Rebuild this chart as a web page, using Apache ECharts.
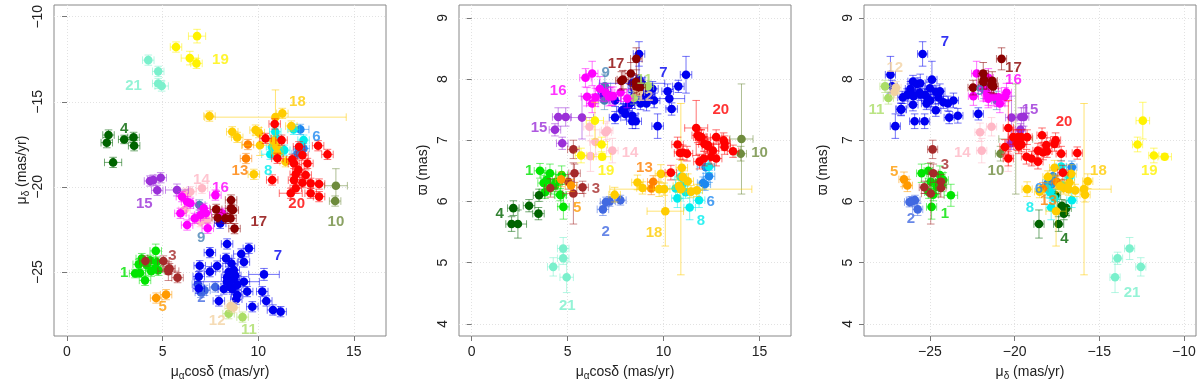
<!DOCTYPE html>
<html>
<head>
<meta charset="utf-8">
<script src="https://cdn.jsdelivr.net/npm/echarts@6/dist/echarts.min.js"></script>
<style>
  html, body { margin: 0; padding: 0; background: #fff; }
  #main { width: 1200px; height: 383px; }
</style>
</head>
<body>
<div id="main"></div>
<script>
// each star: [pmra, pmdec, parallax, err_pmra, err_pmdec, err_parallax]
const g1 = [
  [4.64, -23.76, 6.10, 0.3, 0.4, 0.18], [3.91, -24.21, 6.35, 0.3, 0.3, 0.12],
  [4.35, -24.31, 6.26, 0.3, 0.3, 0.1], [4.69, -24.41, 6.43, 0.3, 0.3, 0.15],
  [4.17, -24.60, 6.24, 0.3, 0.3, 0.12], [4.61, -24.80, 6.11, 0.3, 0.3, 0.1],
  [3.82, -25.06, 6.15, 0.3, 0.25, 0.1], [3.56, -25.09, 6.50, 0.3, 0.25, 0.12],
  [4.08, -25.49, 6.46, 0.3, 0.3, 0.15], [4.78, -24.90, 5.91, 0.3, 0.3, 0.2],
  [4.40, -24.95, 6.32, 0.3, 0.3, 0.12], [3.75, -24.55, 6.30, 0.3, 0.3, 0.12]
];
const g2 = [
  [6.84, -25.72, 5.87, 0.3, 0.3, 0.1], [7.19, -26.08, 6.00, 0.3, 0.3, 0.08],
  [7.75, -25.88, 6.02, 0.3, 0.3, 0.08], [7.00, -26.20, 5.99, 0.3, 0.3, 0.08]
];
const g3 = [
  [4.10, -24.35, 6.22, 0.3, 0.3, 0.15], [5.04, -24.35, 6.32, 0.3, 0.3, 0.12],
  [5.36, -24.80, 6.46, 0.3, 0.3, 0.15], [5.30, -24.95, 6.13, 0.55, 0.55, 0.5],
  [5.78, -25.33, 6.23, 0.3, 0.3, 0.1], [5.30, -24.84, 6.85, 0.3, 0.3, 0.15]
];
const g4 = [
  [2.17, -16.95, 5.89, 0.3, 0.3, 0.12], [2.08, -17.40, 5.63, 0.3, 0.3, 0.12],
  [2.99, -17.21, 5.93, 0.3, 0.25, 0.1], [3.48, -17.09, 5.80, 0.3, 0.3, 0.1],
  [3.51, -17.58, 6.10, 0.3, 0.3, 0.1], [2.41, -18.56, 5.63, 0.45, 0.3, 0.23]
];
const g5 = [
  [4.66, -26.53, 6.36, 0.3, 0.3, 0.12], [5.18, -26.33, 6.26, 0.3, 0.3, 0.1]
];
const g6 = [
  [12.20, -16.62, 6.56, 0.45, 0.3, 0.1], [12.37, -17.74, 6.41, 0.3, 0.3, 0.1],
  [12.06, -18.04, 6.30, 0.3, 0.3, 0.1], [12.15, -17.80, 6.28, 0.3, 0.3, 0.1]
];
const g7 = [
  [8.37, -23.35, 7.40, 0.3, 0.3, 0.12], [7.47, -23.86, 7.37, 0.3, 0.3, 0.1],
  [9.51, -23.61, 7.65, 0.3, 0.3, 0.12], [9.11, -23.94, 7.60, 0.4, 0.3, 0.12],
  [8.32, -24.20, 7.62, 0.3, 0.3, 0.1], [9.25, -24.41, 7.80, 0.3, 0.3, 0.12],
  [7.85, -24.65, 7.49, 0.3, 0.3, 0.1], [6.94, -24.63, 7.79, 0.3, 0.3, 0.1],
  [7.47, -24.98, 7.65, 0.3, 0.3, 0.1], [8.72, -24.88, 7.99, 0.3, 0.3, 0.3],
  [10.30, -25.14, 7.68, 0.8, 0.35, 0.15], [6.89, -25.27, 7.74, 0.3, 0.3, 0.1],
  [8.37, -25.31, 7.31, 0.3, 0.3, 0.12], [8.72, -25.43, 8.41, 0.3, 0.3, 0.2],
  [9.25, -25.57, 7.75, 0.3, 0.3, 0.1], [6.89, -25.96, 7.72, 0.3, 0.3, 0.1],
  [8.55, -25.90, 7.31, 0.3, 0.3, 0.12], [8.90, -25.76, 7.92, 0.3, 0.3, 0.1],
  [9.42, -26.15, 7.84, 0.3, 0.3, 0.12], [10.21, -26.15, 7.80, 0.3, 0.3, 0.12],
  [8.90, -26.35, 7.74, 0.3, 0.3, 0.1], [7.94, -26.70, 7.50, 0.3, 0.3, 0.1],
  [10.42, -26.70, 7.51, 0.3, 0.3, 0.1], [9.69, -27.04, 7.23, 0.3, 0.3, 0.2],
  [10.77, -27.23, 7.88, 0.3, 0.3, 0.1], [11.17, -27.33, 8.07, 0.3, 0.3, 0.3],
  [8.01, -22.14, 7.43, 0.3, 0.3, 0.1], [8.60, -24.50, 7.70, 0.3, 0.3, 0.1],
  [8.45, -25.00, 7.85, 0.3, 0.3, 0.1], [8.80, -25.20, 7.60, 0.3, 0.3, 0.1],
  [8.50, -25.60, 7.78, 0.3, 0.3, 0.1], [8.65, -26.00, 7.96, 0.3, 0.3, 0.1],
  [8.85, -26.60, 7.70, 0.3, 0.3, 0.1], [8.20, -26.00, 7.58, 0.3, 0.3, 0.1],
  [8.36, -25.57, 7.93, 1.7, 0.3, 0.15]
];
const g8 = [
  [10.89, -16.76, 6.40, 0.3, 0.3, 0.1], [11.85, -16.62, 6.02, 0.3, 0.3, 0.12],
  [10.94, -17.15, 6.26, 0.3, 0.3, 0.1], [12.37, -17.25, 6.57, 0.3, 0.3, 0.1],
  [10.72, -17.65, 6.05, 0.3, 0.3, 0.15], [10.63, -18.08, 6.21, 0.45, 0.3, 0.15],
  [11.36, -17.84, 5.90, 0.3, 0.3, 0.2], [11.15, -17.90, 6.15, 0.3, 0.3, 0.1]
];
const g9 = [
  [6.92, -21.06, 7.65, 0.3, 0.3, 0.15], [6.94, -21.80, 7.88, 0.3, 0.3, 0.2]
];
const g10 = [
  [14.06, -19.93, 7.02, 0.6, 1.0, 0.9], [14.02, -20.83, 6.78, 0.3, 0.3, 0.12]
];
const g11 = [
  [8.45, -27.45, 7.69, 0.3, 0.3, 0.1], [9.18, -27.65, 7.88, 0.3, 0.3, 0.1]
];
const g12 = [
  [8.71, -27.09, 7.79, 0.3, 0.3, 0.1], [8.55, -27.00, 7.86, 0.3, 0.3, 0.1]
];
const g13 = [
  [9.46, -17.51, 6.32, 0.3, 0.3, 0.1], [9.36, -18.33, 6.21, 0.3, 0.3, 0.1]
];
const g14 = [
  [7.33, -21.94, 6.83, 0.3, 0.3, 0.2], [6.98, -22.04, 7.13, 0.3, 0.3, 0.15],
  [6.14, -21.36, 7.22, 0.3, 0.3, 0.15], [6.45, -20.28, 6.97, 0.3, 0.3, 0.2],
  [6.19, -20.38, 6.74, 0.3, 0.3, 0.25], [7.06, -20.08, 7.16, 0.3, 0.3, 0.15]
];
const g15 = [
  [4.72, -20.20, 6.95, 0.3, 0.3, 0.1], [5.75, -20.18, 7.37, 0.6, 0.35, 0.35],
  [4.90, -19.46, 7.38, 0.3, 0.3, 0.15], [4.34, -19.65, 7.17, 0.3, 0.3, 0.1],
  [4.51, -19.60, 7.38, 0.3, 0.3, 0.15]
];
const g16 = [
  [6.01, -20.57, 7.71, 0.3, 0.3, 0.15], [6.28, -20.87, 7.60, 0.3, 0.3, 0.15],
  [5.93, -21.55, 8.02, 0.3, 0.3, 0.15], [6.45, -20.96, 7.70, 0.3, 0.3, 0.15],
  [6.68, -21.85, 7.84, 0.3, 0.3, 0.2], [7.15, -21.26, 7.71, 0.3, 0.3, 0.15],
  [7.26, -21.55, 7.72, 0.3, 0.3, 0.15], [7.36, -22.43, 7.72, 0.3, 0.3, 0.15],
  [6.28, -22.24, 8.09, 0.3, 0.3, 0.2], [7.76, -20.48, 7.78, 0.3, 0.3, 0.15],
  [8.11, -21.55, 7.68, 0.3, 0.3, 0.15], [6.98, -21.65, 7.78, 0.3, 0.3, 0.15]
];
const g17 = [
  [8.58, -20.77, 8.33, 0.3, 0.3, 0.18], [7.80, -21.32, 7.97, 0.3, 0.3, 0.15],
  [7.88, -21.81, 7.99, 0.3, 0.3, 0.15], [8.29, -21.85, 8.09, 0.3, 0.3, 0.18],
  [8.58, -21.26, 7.88, 0.3, 0.3, 0.12], [8.67, -21.36, 7.90, 0.3, 0.3, 0.12],
  [8.55, -21.85, 7.95, 0.3, 0.3, 0.12], [8.76, -22.45, 7.86, 0.3, 0.3, 0.12]
];
const g18 = [
  [10.90, -15.90, 6.20, 3.7, 1.6, 1.4], [10.09, -17.55, 5.84, 0.95, 0.6, 0.57],
  [7.45, -15.84, 6.11, 0.3, 0.3, 0.12], [11.26, -15.68, 6.33, 0.3, 0.3, 0.12],
  [11.73, -16.42, 6.18, 0.3, 0.3, 0.1], [8.64, -16.76, 6.31, 0.3, 0.3, 0.12],
  [8.90, -17.09, 6.22, 0.3, 0.3, 0.1], [9.86, -16.66, 6.45, 0.3, 0.3, 0.15],
  [10.03, -16.81, 6.20, 0.3, 0.3, 0.1], [10.95, -17.64, 6.55, 0.3, 0.3, 0.12],
  [11.00, -18.03, 6.40, 0.3, 0.3, 0.1], [11.43, -18.52, 6.16, 0.3, 0.3, 0.1],
  [9.77, -19.26, 6.20, 0.3, 0.3, 0.12], [10.80, -17.30, 6.25, 0.3, 0.3, 0.1]
];
const g19 = [
  [6.42, -12.43, 7.32, 0.45, 0.4, 0.3], [6.77, -12.74, 6.93, 0.3, 0.3, 0.12],
  [5.70, -11.78, 6.75, 0.3, 0.3, 0.12], [6.80, -11.14, 6.73, 0.45, 0.4, 0.05]
];
const g20 = [
  [10.86, -16.30, 6.79, 0.3, 0.3, 0.1], [10.38, -17.15, 6.47, 0.3, 0.3, 0.12],
  [11.22, -17.25, 6.78, 0.3, 0.3, 0.12], [12.13, -17.64, 6.94, 0.3, 0.3, 0.12],
  [13.13, -17.58, 7.00, 0.3, 0.3, 0.12], [13.62, -18.09, 6.82, 0.3, 0.3, 0.1],
  [11.78, -18.38, 7.08, 0.3, 0.3, 0.12], [12.31, -18.13, 6.92, 0.3, 0.3, 0.12],
  [12.57, -18.62, 6.83, 0.3, 0.3, 0.12], [11.87, -18.62, 6.65, 0.3, 0.3, 0.12],
  [10.73, -19.59, 6.93, 0.3, 0.3, 0.12], [11.96, -19.26, 7.05, 0.3, 0.3, 0.12],
  [12.48, -19.30, 6.73, 0.3, 0.3, 0.12], [11.87, -19.60, 7.05, 0.3, 0.3, 0.12],
  [12.31, -19.75, 6.90, 0.3, 0.3, 0.12], [12.74, -19.79, 7.05, 0.3, 0.3, 0.12],
  [13.18, -19.83, 6.95, 0.3, 0.3, 0.12], [11.96, -20.08, 7.05, 0.3, 0.3, 0.12],
  [11.70, -20.37, 7.20, 0.6, 0.3, 0.45], [12.74, -20.37, 6.70, 0.3, 0.3, 0.12],
  [13.18, -20.57, 6.89, 0.3, 0.3, 0.12], [11.00, -18.32, 6.80, 0.3, 0.3, 0.12],
  [12.10, -19.00, 6.70, 0.3, 0.3, 0.12]
];
const g21 = [
  [4.25, -12.55, 4.93, 0.3, 0.3, 0.15], [4.77, -13.21, 5.23, 0.3, 0.3, 0.18],
  [4.77, -13.92, 5.07, 0.3, 0.3, 0.1], [4.95, -14.07, 4.76, 0.35, 0.3, 0.25]
];

const groups = [g1, g2, g3, g4, g5, g6, g7, g8, g9, g10, g11, g12, g13, g14, g15, g16, g17, g18, g19, g20, g21];
const groupNames = ['1', '2', '3', '4', '5', '6', '7', '8', '9', '10', '11', '12', '13', '14', '15', '16', '17', '18', '19', '20', '21'];
const colors = ['#00E400', '#4169E1', '#A52A2A', '#006400', '#FF9A00', '#1E88F0', '#0000F0', '#00EEEE',
  '#4682B4', '#6E8B3D', '#AADD66', '#F2D2A2', '#FF8000', '#FFB8C6', '#9B30D8', '#FF00FF',
  '#8B0000', '#FFCC00', '#FFF200', '#FF0000', '#7AF0CC'];

// group label anchors, one per panel, in data units
const labels1 = [[2.99, -25.04], [7.03, -26.51], [5.51, -24.06], [2.99, -16.56], [5.0, -27.04], [13.04, -17.05],
  [11.03, -24.04], [10.52, -19.05], [7.01, -23.02], [14.06, -22.04], [9.51, -28.37], [7.85, -27.86],
  [9.04, -19.05], [7.03, -19.56], [4.04, -21.02], [8.02, -20.05], [10.03, -22.04], [12.05, -15.03],
  [8.02, -12.55], [12.01, -21.02], [3.48, -14.05]];
const labels2 = [[2.99, 6.50], [6.98, 5.50], [6.47, 6.20], [1.46, 5.79], [5.50, 5.90], [12.46, 6.00],
  [9.99, 8.10], [11.95, 5.69], [6.98, 8.10], [15.0, 6.80], [9.0, 7.98], [9.03, 7.71],
  [9.0, 6.55], [8.25, 6.80], [3.51, 7.20], [4.51, 7.80], [7.52, 8.25], [9.50, 5.49],
  [7.0, 6.50], [12.98, 7.50], [4.98, 4.30]];
const labels3 = [[-24.11, 5.80], [-26.12, 5.71], [-24.11, 6.60], [-17.06, 5.39], [-27.11, 6.49], [-18.57, 6.20],
  [-24.11, 8.60], [-19.09, 5.90], [-22.04, 7.81], [-21.10, 6.50], [-28.15, 7.50], [-27.07, 8.19],
  [-18.0, 6.01], [-23.09, 6.79], [-19.09, 7.50], [-20.07, 7.99], [-20.07, 8.19], [-15.05, 6.50],
  [-12.05, 6.50], [-17.08, 7.30], [-13.07, 4.50]];

const pmraTicks = [0, 5, 10, 15];
const pmdecTicks = [-25, -20, -15, -10];
const plxTicks = [4, 5, 6, 7, 8, 9];

// [x column, y column, label anchors] for each panel
const panels = [[0, 1, labels1], [0, 2, labels2], [1, 2, labels3]];

const FONT = '"Liberation Sans", Arial, sans-serif';

function errBar(color) {
  return function (params, api) {
    const x = api.value(0), y = api.value(1), ex = api.value(2), ey = api.value(3);
    const p = api.coord([x, y]);
    const x0 = api.coord([x - ex, y])[0], x1 = api.coord([x + ex, y])[0];
    const y0 = api.coord([x, y - ey])[1], y1 = api.coord([x, y + ey])[1];
    const c = 3.8;
    const st = { stroke: color, lineWidth: 1, opacity: 0.55 };
    const seg = (a, b, e, d) => ({ type: 'line', shape: { x1: a, y1: b, x2: e, y2: d }, style: st });
    return {
      type: 'group',
      children: [
        seg(x0, p[1], x1, p[1]), seg(x0, p[1] - c, x0, p[1] + c), seg(x1, p[1] - c, x1, p[1] + c),
        seg(p[0], y0, p[0], y1), seg(p[0] - c, y0, p[0] + c, y0), seg(p[0] - c, y1, p[0] + c, y1),
        { type: 'circle', shape: { cx: p[0], cy: p[1], r: 4.3 }, style: { fill: color } }
      ]
    };
  };
}

function axis(gridIndex, min, max, ticks, isY) {
  return {
    type: 'value', gridIndex: gridIndex, min: min, max: max,
    axisLine: { show: false },
    axisTick: { show: true, customValues: ticks, length: 5, inside: false, lineStyle: { color: '#777' } },
    axisLabel: {
      customValues: ticks, fontSize: 14, color: '#222', fontFamily: FONT,
      margin: 9, rotate: isY ? 90 : 0,
      formatter: v => String(v).replace('-', '\u2212')
    },
    splitLine: { show: true, lineStyle: { color: '#e2e2e2', type: [1, 2], width: 1 } }
  };
}

const grids = [54, 459, 864].map(l => ({
  left: l, top: 5, width: 332, height: 331, show: true,
  borderColor: '#888', borderWidth: 1, backgroundColor: '#fff'
}));

const xAxes = [axis(0, -0.68, 16.68, pmraTicks), axis(1, -0.66, 16.64, pmraTicks), axis(2, -28.89, -9.29, pmdecTicks)];
const yAxes = [axis(0, -28.76, -9.31, pmdecTicks, true), axis(1, 3.80, 9.21, plxTicks, true), axis(2, 3.80, 9.21, plxTicks, true)];

const series = [];
panels.forEach(([xi, yi, lab], pi) => {
  groups.forEach((g, gi) => {
    series.push({
      type: 'custom', xAxisIndex: pi, yAxisIndex: pi, silent: true,
      renderItem: errBar(colors[gi]),
      data: g.map(s => [s[xi], s[yi], s[xi + 3], s[yi + 3]]),
      z: 2
    });
  });
  series.push({
    type: 'scatter', xAxisIndex: pi, yAxisIndex: pi, silent: true, symbolSize: 1,
    itemStyle: { color: 'rgba(0,0,0,0)' }, z: 5,
    data: lab.map((p, gi) => ({
      value: p, name: groupNames[gi],
      label: { color: colors[gi] }
    })),
    label: {
      show: true, position: 'inside', formatter: '{b}',
      fontSize: 15, fontWeight: 'bold', fontFamily: FONT
    },
    labelLayout: { hideOverlap: false }
  });
});

function title(x, y, text, rot) {
  return {
    type: 'text', x: x, y: y, rotation: rot ? Math.PI / 2 : 0, silent: true,
    style: {
      text: text, align: 'center', verticalAlign: 'middle',
      fontSize: 14, fill: '#222', fontFamily: FONT,
      rich: { s: { fontSize: 10, padding: [9, 0, 0, 0], fill: '#222', fontFamily: FONT } }
    }
  };
}

const chart = echarts.init(document.getElementById('main'), null, { renderer: 'canvas' });
chart.setOption({
  animation: false,
  backgroundColor: '#fff',
  grid: grids,
  xAxis: xAxes,
  yAxis: yAxes,
  series: series,
  graphic: [
    title(220, 372, '\u03bc{s|\u03b1}cos\u03b4 (mas/yr)'),
    title(625, 372, '\u03bc{s|\u03b1}cos\u03b4 (mas/yr)'),
    title(1030, 372, '\u03bc{s|\u03b4} (mas/yr)'),
    title(22, 170, '\u03bc{s|\u03b4} (mas/yr)', true),
    title(423, 170, '\u03d6 (mas)', true),
    title(823, 170, '\u03d6 (mas)', true)
  ]
});
window.onresize = function () { chart.resize(); };
</script>
</body>
</html>
